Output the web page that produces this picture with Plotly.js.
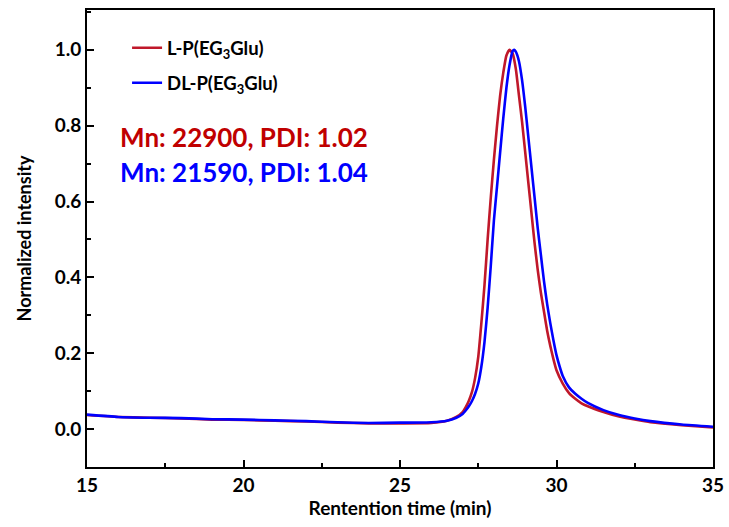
<!DOCTYPE html>
<html>
<head>
<meta charset="utf-8">
<script src="https://cdn.plot.ly/plotly-3.0.1.min.js"></script>
<style>html,body{margin:0;padding:0;background:#fff;}#chart{width:729px;height:527px;}</style>
</head>
<body>
<div id="chart"></div>
<script>
// Retention time (min) and normalized intensity
const xRed = [15,16,17,18,19,20,21,22,23,24,25,26,26.5,26.8,27.0,27.1,27.2,27.3,27.4,27.5,27.6,27.7,27.8,27.9,28.0,28.1,28.2,28.3,28.4,28.5,28.6,28.7,28.8,28.9,29.0,29.1,29.2,29.3,29.4,29.5,29.6,29.7,29.8,29.9,30.0,30.2,30.4,30.6,30.8,31.0,31.5,32,32.5,33,34,35];
const yRed = [0.037,0.032,0.030,0.028,0.025,0.024,0.022,0.020,0.017,0.015,0.015,0.016,0.022,0.032,0.045,0.058,0.075,0.098,0.135,0.19,0.28,0.38,0.50,0.61,0.71,0.80,0.88,0.94,0.985,1.0,0.99,0.95,0.88,0.81,0.73,0.65,0.57,0.49,0.42,0.36,0.31,0.26,0.22,0.185,0.155,0.12,0.095,0.08,0.068,0.06,0.045,0.033,0.025,0.018,0.010,0.004];
const xBlue = [15,16,17,18,19,20,21,22,23,24,25,26,26.5,26.8,27.0,27.1,27.2,27.3,27.4,27.5,27.6,27.7,27.8,27.9,28.0,28.1,28.2,28.3,28.4,28.5,28.6,28.65,28.7,28.8,28.9,29.0,29.1,29.2,29.3,29.4,29.5,29.6,29.7,29.8,29.9,30.0,30.1,30.2,30.4,30.6,30.8,31.0,31.5,32,32.5,33,34,35];
const yBlue = [0.038,0.032,0.030,0.029,0.026,0.025,0.023,0.021,0.018,0.016,0.017,0.018,0.022,0.030,0.040,0.049,0.060,0.074,0.093,0.12,0.165,0.23,0.32,0.43,0.55,0.64,0.73,0.82,0.90,0.96,0.997,1.0,0.995,0.97,0.92,0.85,0.77,0.69,0.61,0.53,0.46,0.39,0.33,0.28,0.235,0.195,0.165,0.14,0.110,0.093,0.080,0.069,0.05,0.037,0.028,0.021,0.012,0.006];
const seriesNames = ['L-P(EG<sub>3</sub>Glu)','DL-P(EG<sub>3</sub>Glu)'];
const noteRed = 'Mn: 22900, PDI: 1.02';
const noteBlue = 'Mn: 21590, PDI: 1.04';
const xTicks = [15,20,25,30,35];
const yTicks = [0.0,0.2,0.4,0.6,0.8,1.0];

const FONT = 'Lato, "Open Sans", sans-serif';
const traces = [
  {x:xRed, y:yRed, name:seriesNames[0], legendgroup:'a', type:'scatter', mode:'lines', line:{color:'#C0182A', width:2.6, shape:'spline', smoothing:0.5}},
  {x:xBlue, y:yBlue, name:seriesNames[1], legendgroup:'b', type:'scatter', mode:'lines', line:{color:'#0000FF', width:2.6, shape:'spline', smoothing:0.5}}
];
const axisCommon = {
  showgrid:false, zeroline:false, showline:true, linecolor:'#000', linewidth:2, mirror:true,
  ticks:'inside', ticklen:7, tickwidth:2, tickcolor:'#000',
  tickfont:{family:FONT, size:19, color:'#000', weight:'bold'}
};
const layout = {
  width:729, height:527,
  margin:{l:87, r:16, t:10, b:60},
  paper_bgcolor:'#fff', plot_bgcolor:'#fff',
  showlegend:true,
  legend:{x:0.064, y:0.958, xanchor:'left', yanchor:'top', bgcolor:'rgba(0,0,0,0)',
    font:{family:FONT, size:18.5, color:'#000', weight:'bold'}, tracegroupgap:8, itemwidth:30},
  xaxis:Object.assign({}, axisCommon, {
    range:[15,35], tickvals:xTicks, ticktext:xTicks.map(String),
    minor:{ticks:'inside', dtick:2.5, ticklen:4, tickwidth:2, tickcolor:'#000'},
    title:{text:'Rentention time (min)', font:{family:FONT, size:19, color:'#000', weight:'bold'}, standoff:4}
  }),
  yaxis:Object.assign({}, axisCommon, {
    range:[-0.1,1.105], tickvals:yTicks, ticktext:yTicks.map(v=>v.toFixed(1)),
    minor:{ticks:'inside', dtick:0.1, ticklen:4, tickwidth:2, tickcolor:'#000'},
    title:{text:'Normalized intensity', font:{family:FONT, size:18, color:'#000', weight:'bold'}, standoff:18}
  }),
  annotations:[
    {xref:'paper', yref:'paper', x:0.0495, y:0.722, xanchor:'left', yanchor:'middle', showarrow:false,
     text:noteRed, font:{family:FONT, size:26, color:'#C00000', weight:'bold'}},
    {xref:'paper', yref:'paper', x:0.0495, y:0.6455, xanchor:'left', yanchor:'middle', showarrow:false,
     text:noteBlue, font:{family:FONT, size:26, color:'#0000FF', weight:'bold'}}
  ]
};
Plotly.newPlot('chart', traces, layout, {displayModeBar:false, staticPlot:true});
</script>
</body>
</html>
